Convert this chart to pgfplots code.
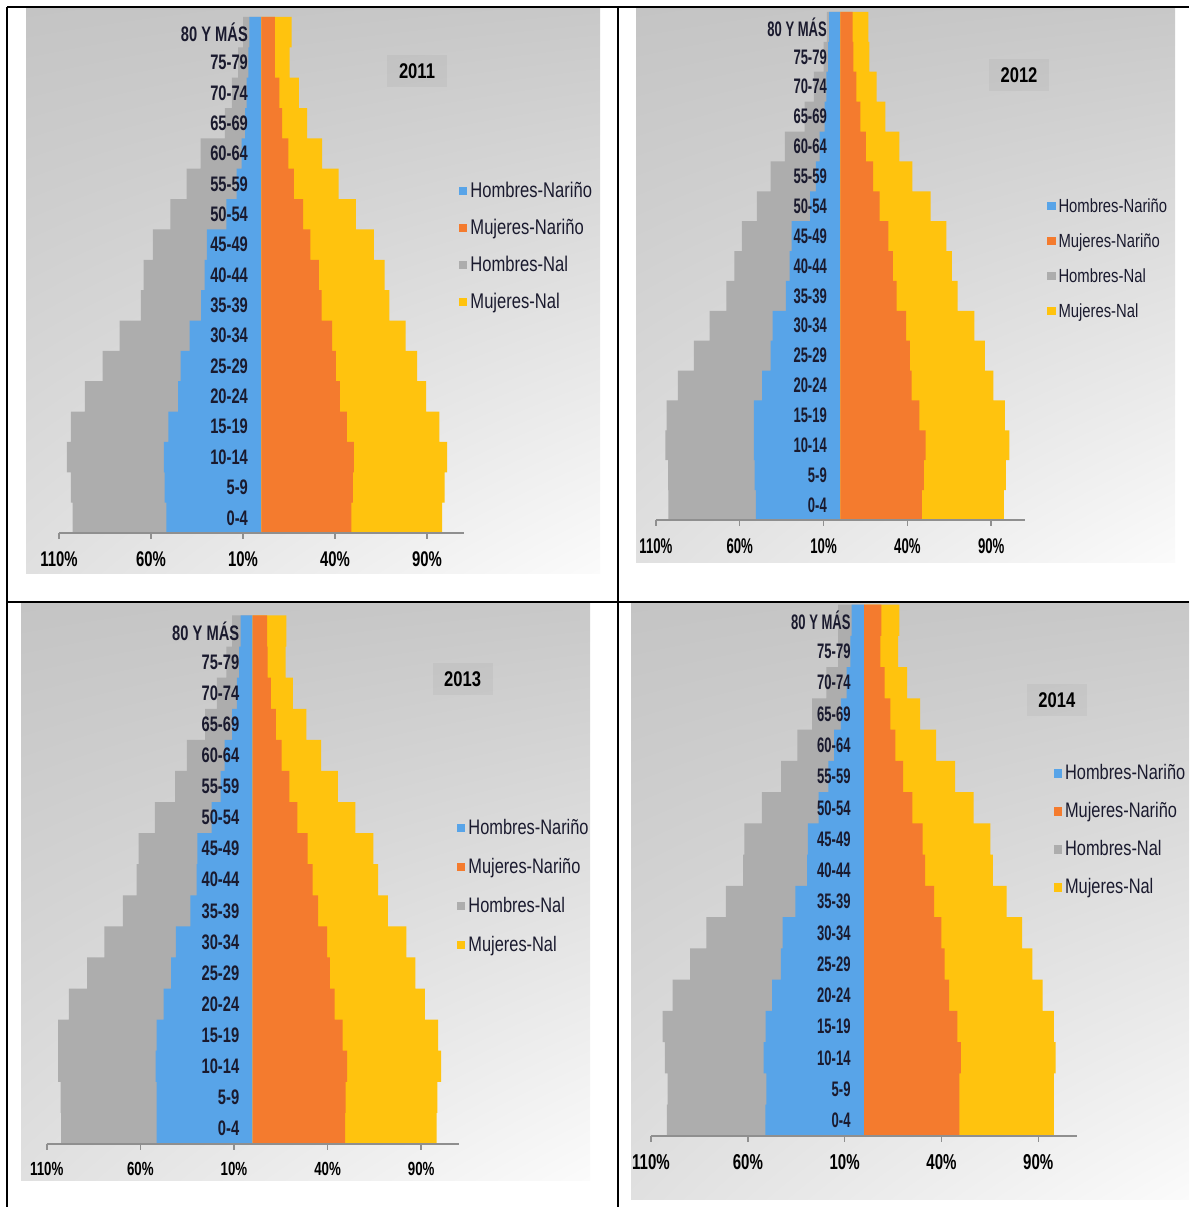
\documentclass[border=0pt]{standalone}
\usepackage{pgfplots}
\pgfplotsset{compat=1.18}
\usepackage{pgfplotstable}
\usetikzlibrary{shadings}
\usepackage{fontspec}
\setmainfont{Liberation Sans}
\newfontfamily\nA[FakeStretch=0.70]{Liberation Sans}
\newfontfamily\nB[FakeStretch=0.62]{Liberation Sans}
\newfontfamily\nL[FakeStretch=0.78]{Liberation Sans}
\definecolor{cblue}{HTML}{58A4E8}
\definecolor{corange}{HTML}{F47B2E}
\definecolor{cgray}{HTML}{ADADAD}
\definecolor{cyellow}{HTML}{FFC30E}
\definecolor{ctext}{HTML}{1A1A2E}
\definecolor{caxis}{HTML}{8F8F8F}
\definecolor{bgUL}{HTML}{C4C4C4}
\definecolor{bgUR}{HTML}{C8C8C8}
\definecolor{bgLL}{HTML}{E0E0E0}
\definecolor{bgLR}{HTML}{FBFBFB}

% idx: 0 = 0-4 ... 16 = 80 Y MAS ; hn/hnal negative (left side)
\pgfplotstableread{
idx hn mn hnal mnal
0 -51.6 48.9 -102.6 98.2
1 -52.6 49.7 -103.6 99.6
2 -53.0 50.3 -105.7 100.9
3 -50.5 46.4 -103.6 96.7
4 -45.3 42.6 -95.9 89.5
5 -43.9 40.5 -86.3 84.6
6 -39.0 38.5 -77.0 78.4
7 -32.8 32.7 -65.5 69.5
8 -30.8 31.2 -64.0 67.0
9 -29.7 26.6 -59.0 61.1
10 -19.0 22.7 -49.5 51.4
11 -13.4 17.7 -40.6 42.0
12 -10.7 14.6 -33.0 33.0
13 -8.9 11.2 -19.8 24.9
14 -8.0 9.8 -16.0 20.4
15 -7.1 7.3 -12.7 15.4
16 -6.5 7.3 -10.0 16.4
}\tA
\pgfplotstableread{
idx hn mn hnal mnal
0 -50.4 48.7 -102.5 97.5
1 -51.1 49.8 -102.7 98.7
2 -51.6 50.9 -104.3 100.9
3 -51.6 47.1 -103.6 98.2
4 -46.6 42.6 -96.9 91.3
5 -41.5 41.5 -87.4 86.3
6 -40.4 39.2 -78.0 80.0
7 -32.5 33.6 -67.9 70.0
8 -30.3 31.4 -63.2 66.6
9 -29.0 28.7 -58.7 63.2
10 -18.0 23.5 -49.8 53.8
11 -14.6 19.5 -41.5 43.0
12 -12.3 15.2 -33.0 35.2
13 -9.4 11.9 -21.3 26.9
14 -8.3 9.6 -15.7 21.7
15 -7.2 7.8 -10.0 17.3
16 -6.7 7.4 -8.0 16.8
}\tB
\pgfplotstableread{
idx hn mn hnal mnal
0 -51.3 49.4 -102.4 98.3
1 -51.3 49.6 -102.6 98.7
2 -51.9 50.5 -104.0 100.7
3 -51.3 48.0 -104.0 99.0
4 -47.6 43.8 -98.2 92.0
5 -43.6 41.2 -88.5 86.9
6 -41.0 39.7 -79.2 82.1
7 -33.3 35.0 -69.3 72.2
8 -30.0 32.0 -62.0 67.0
9 -29.6 29.4 -61.0 64.5
10 -22.0 23.8 -52.3 54.8
11 -17.2 19.6 -41.4 45.5
12 -15.0 15.5 -35.2 36.6
13 -11.0 12.4 -25.4 28.7
14 -8.5 9.7 -19.2 21.5
15 -7.2 8.0 -14.0 17.6
16 -6.4 7.7 -11.0 18.0
}\tC
\pgfplotstableread{
idx hn mn hnal mnal
0 -51.0 49.2 -101.8 98.0
1 -50.4 49.2 -101.4 98.0
2 -51.8 50.0 -102.8 99.0
3 -50.8 48.2 -104.0 98.0
4 -47.4 44.0 -98.8 92.2
5 -43.0 41.6 -89.8 87.0
6 -42.0 40.0 -81.4 81.6
7 -35.4 36.2 -71.4 73.6
8 -29.4 31.6 -62.4 66.6
9 -29.0 30.2 -61.8 65.2
10 -23.4 25.0 -52.8 56.6
11 -18.4 20.2 -42.8 47.0
12 -15.4 16.2 -34.4 37.2
13 -12.0 13.6 -26.8 29.0
14 -9.0 10.6 -19.4 22.2
15 -7.0 8.4 -13.4 17.6
16 -6.4 9.0 -13.4 18.2
}\tD

\pgfplotsset{
  pyr/.style={
    scale only axis,
    xmin=-110, xmax=110, ymin=-0.5, ymax=16.5,
    axis x line=bottom, axis y line=center,
    y axis line style={draw=none,-},
    x axis line style={draw=caxis, line width=0.6pt, -},
    xtick={-110,-60,-10,40,90},
    xticklabels={110\%,60\%,10\%,40\%,90\%},
    x tick style={draw=caxis, line width=0.6pt},
    xtick align=outside, major tick length=2.4pt,
    ytick={0,...,16},
    yticklabels={0-4,5-9,10-14,15-19,20-24,25-29,30-34,35-39,40-44,45-49,50-54,55-59,60-64,65-69,70-74,75-79,80 Y MÁS},
    y tick style={draw=none},
    yticklabel style={anchor=east, inner sep=0pt, text=ctext, xshift=-2.8pt},
    xticklabel style={text=black, yshift=-1.5pt},
    axis on top,
    xbar, bar shift=0pt, bar width=1,
    legend cell align=left,
    legend image code/.code={\fill[##1, draw=none] (0pt,-1.7pt) rectangle (3.4pt,1.7pt);},
    legend style={draw=none, fill=none, inner sep=0pt, outer sep=0pt, anchor=west, column sep=1.2pt,
      nodes={inner sep=0pt, text height=0.75em, text depth=0.25em, text=ctext}},
  },
  sgray/.style={draw=none, fill=cgray, forget plot},
  sblue/.style={draw=none, fill=cblue, forget plot},
  syellow/.style={draw=none, fill=cyellow, forget plot},
  sorange/.style={draw=none, fill=corange, forget plot},
}

\newcommand{\pyrplots}[1]{%
  \addplot[sgray] table[x=hnal,y=idx] {#1};
  \addplot[sblue] table[x=hn,y=idx] {#1};
  \addplot[syellow] table[x=mnal,y=idx] {#1};
  \addplot[sorange] table[x=mn,y=idx] {#1};
  \addlegendimage{fill=cblue, draw=none}\addlegendentry{Hombres-Nariño}
  \addlegendimage{fill=corange, draw=none}\addlegendentry{Mujeres-Nariño}
  \addlegendimage{fill=cgray, draw=none}\addlegendentry{Hombres-Nal}
  \addlegendimage{fill=cyellow, draw=none}\addlegendentry{Mujeres-Nal}
}

\begin{document}
\begin{tikzpicture}[x=0.4pt,y=0.4pt]
\useasboundingbox (0,0) rectangle (1189,1207);
% panel backgrounds
\shade[upper left=bgUL, upper right=bgUR, lower left=bgLL, lower right=bgLR] (26,633) rectangle (600,1200);
\shade[upper left=bgUL, upper right=bgUR, lower left=bgLL, lower right=bgLR] (636,644) rectangle (1175,1200);
\shade[upper left=bgUL, upper right=bgUR, lower left=bgLL, lower right=bgLR] (21,26) rectangle (590,605);
\shade[upper left=bgUL, upper right=bgUR, lower left=bgLL, lower right=bgLR] (631,7) rectangle (1189,605);

% 2011
\begin{axis}[pyr, at={(23.6pt,269.6pt)}, anchor=south west, width=161.92pt, height=206.4pt,
  yticklabel style={font=\nA\bfseries\fontsize{8.4}{9}\selectfont},
  xticklabel style={font=\nA\bfseries\fontsize{8.5}{9}\selectfont},
  legend style={at={(0.988,0.5556)}, row sep=4.8pt, font=\nL\fontsize{8.5}{9}\selectfont}]
\pyrplots{\tA}
\end{axis}
% 2012
\begin{axis}[pyr, at={(262.36pt,274.8pt)}, anchor=south west, width=147.52pt, height=203.2pt,
  yticklabel style={font=\nB\bfseries\fontsize{8.4}{9}\selectfont},
  xticklabel style={font=\nB\bfseries\fontsize{8.5}{9}\selectfont},
  legend style={at={(1.0605,0.515)}, row sep=4.0pt, font=\nL\fontsize{7.6}{9}\selectfont}]
\pyrplots{\tB}
\end{axis}
% 2013
\begin{axis}[pyr, at={(18.72pt,25.2pt)}, anchor=south west, width=164.72pt, height=211.4pt,
  yticklabel style={font=\nA\bfseries\fontsize{8.4}{9}\selectfont},
  xticklabel style={font=\nA\bfseries\fontsize{7.6}{9}\selectfont},
  legend style={at={(0.996,0.487)}, row sep=5.6pt, font=\nL\fontsize{8.4}{9}\selectfont}]
\pyrplots{\tC}
\end{axis}
% 2014
\begin{axis}[pyr, at={(260.4pt,28.4pt)}, anchor=south west, width=170.4pt, height=212.56pt,
  yticklabel style={font=\nB\bfseries\fontsize{8.4}{9}\selectfont},
  xticklabel style={font=\nA\bfseries\fontsize{8.6}{9}\selectfont},
  legend style={at={(0.945,0.575)}, row sep=5.2pt, font=\nL\fontsize{8.4}{9}\selectfont}]
\pyrplots{\tD}
\end{axis}

% year labels
\begin{scope}[every node/.style={fill=black, fill opacity=0.035, text opacity=1, inner sep=0pt, minimum width=24pt, minimum height=13pt, font=\nL\bfseries\fontsize{8.5}{9}\selectfont}]
\node at (417,1136) {2011};
\node at (1019,1132) {2012};
\node at (462.6,528) {2013};
\node at (1056.8,507) {2014};
\end{scope}

% table rules
\draw[line width=0.8pt] (7,1200) -- (1189,1200);
\draw[line width=0.8pt] (7,1200) -- (7,0);
\draw[line width=0.8pt] (617.5,1200) -- (617.5,0);
\draw[line width=0.8pt] (7,605) -- (1189,605);
\end{tikzpicture}
\end{document}
